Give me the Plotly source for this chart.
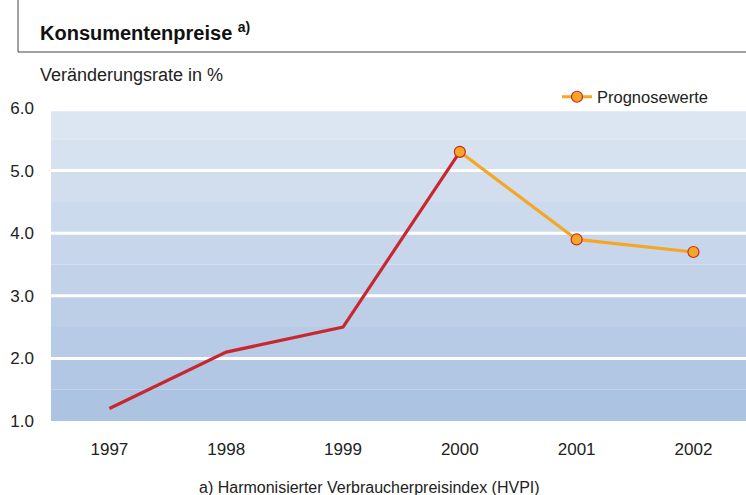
import plotly.graph_objects as go

years = [1997, 1998, 1999, 2000, 2001, 2002]
actual_years = [1997, 1998, 1999, 2000]
actual_values = [1.2, 2.1, 2.5, 5.3]
forecast_years = [2000, 2001, 2002]
forecast_values = [5.3, 3.9, 3.7]
y_ticks = [1.0, 2.0, 3.0, 4.0, 5.0, 6.0]
y_tick_labels = ["1.0", "2.0", "3.0", "4.0", "5.0", "6.0"]

RED = "#C8282D"
ORANGE = "#F5A623"
FONT = "Liberation Sans, Arial, sans-serif"

FW, FH = 746, 495
L = 51
R = 0
T = 108
B = FH - 421
W = FW - L - R
H = FH - T - B

def px(xp):
    return (xp - L) / W

def py(yp):
    return (FH - B - yp) / H

fig = go.Figure()

# gradient background bands
top = (220, 230, 242)
bot = (173, 195, 226)
edges = [1.0 + 0.5 * i for i in range(10)] + [5.95]
n = len(edges) - 1
for i in range(n):
    t = i / (n - 1)
    c = tuple(round(bot[k] + (top[k] - bot[k]) * t) for k in range(3))
    fig.add_shape(type="rect", xref="x domain", yref="y", x0=0, x1=1,
                  y0=edges[i], y1=edges[i + 1], fillcolor="rgb(%d,%d,%d)" % c,
                  line=dict(width=0), layer="below")
for g in [2, 3, 4, 5]:
    fig.add_shape(type="line", xref="x domain", yref="y", x0=0, x1=1, y0=g, y1=g,
                  line=dict(color="white", width=3), layer="below")

fig.add_trace(go.Scatter(x=actual_years, y=actual_values, mode="lines",
                         line=dict(color=RED, width=3.2), showlegend=False))
fig.add_trace(go.Scatter(x=forecast_years, y=forecast_values, mode="lines+markers",
                         line=dict(color=ORANGE, width=3.2),
                         marker=dict(size=11, color=ORANGE, line=dict(color=RED, width=1.2)),
                         name="Prognosewerte", showlegend=True))

fig.update_layout(
    width=FW, height=FH,
    margin=dict(l=L, r=R, t=T, b=B),
    paper_bgcolor="white", plot_bgcolor="white",
    font=dict(family=FONT, size=17, color="#222222"),
    xaxis=dict(range=[1996.5, 2002.45], tickmode="array", tickvals=years,
               ticktext=[str(y) for y in years], showgrid=False, zeroline=False,
               showline=False, ticks="", ticklabelstandoff=16, fixedrange=True,
               automargin=False),
    yaxis=dict(range=[1.0, 6.0], tickmode="array", tickvals=y_ticks,
               ticktext=y_tick_labels, showgrid=False, zeroline=False,
               showline=False, ticks="", ticklabelstandoff=16, fixedrange=True,
               automargin=False),
    legend=dict(x=px(557), y=py(97), xanchor="left", yanchor="middle",
                bgcolor="rgba(0,0,0,0)", font=dict(size=16.5), itemwidth=30),
)

fig.add_shape(type="line", xref="paper", yref="paper", x0=px(18), x1=px(18),
              y0=py(0), y1=py(52), line=dict(color="#444444", width=1))
fig.add_shape(type="line", xref="paper", yref="paper", x0=px(18), x1=px(746),
              y0=py(52), y1=py(52), line=dict(color="#444444", width=1))

fig.add_annotation(xref="paper", yref="paper", x=px(38), y=py(31), xanchor="left",
                   yanchor="middle", showarrow=False,
                   text="<b>Konsumentenpreise</b> <b><sup>a)</sup></b>",
                   font=dict(size=20, color="#111111"))
fig.add_annotation(xref="paper", yref="paper", x=px(38), y=py(75), xanchor="left",
                   yanchor="middle", showarrow=False, text="Veränderungsrate in %",
                   font=dict(size=18, color="#222222"))
fig.add_annotation(xref="paper", yref="paper", x=px(369), y=py(487), xanchor="center",
                   yanchor="middle", showarrow=False,
                   text="a) Harmonisierter Verbraucherpreisindex (HVPI)",
                   font=dict(size=16, color="#222222"))

fig.write_html("out.html", config={"displayModeBar": False},
               post_script="document.body.style.margin='0';document.body.style.overflow='hidden';")
